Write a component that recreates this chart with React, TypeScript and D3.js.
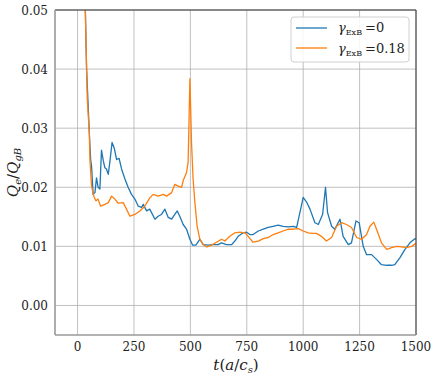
import React from 'react';
import * as d3 from 'd3';

// time (a/c_s) and Q_e/Q_gB
const tBlue = [30, 40, 52, 58, 62, 69, 77, 84, 91, 99, 106, 114, 121, 128, 136, 143, 153, 162, 173, 184, 195, 210, 224, 239, 254, 269, 284, 291, 306, 320, 343, 357, 372, 387, 402, 417, 431, 442, 453, 468, 483, 498, 510, 524, 542, 557, 579, 601, 623, 638, 660, 683, 697, 712, 734, 749, 764, 778, 801, 823, 845, 867, 889, 911, 934, 956, 971, 982, 1000, 1015, 1030, 1052, 1067, 1086, 1099, 1108, 1126, 1140, 1163, 1177, 1200, 1214, 1234, 1248, 1266, 1281, 1303, 1325, 1347, 1370, 1392, 1406, 1429, 1451, 1473, 1495, 1500];
const qBlue = [0.058, 0.04, 0.0293, 0.0247, 0.0236, 0.0188, 0.0191, 0.0216, 0.02, 0.0197, 0.0263, 0.0245, 0.0233, 0.0231, 0.0222, 0.0242, 0.0276, 0.0267, 0.0247, 0.0249, 0.0231, 0.0214, 0.02, 0.0188, 0.018, 0.0168, 0.0166, 0.0171, 0.016, 0.0163, 0.0146, 0.0151, 0.0154, 0.0163, 0.0149, 0.0146, 0.0154, 0.016, 0.0151, 0.0137, 0.0129, 0.0112, 0.0102, 0.0102, 0.0112, 0.0103, 0.0102, 0.0103, 0.0103, 0.0106, 0.0103, 0.0103, 0.0109, 0.0117, 0.0123, 0.0124, 0.012, 0.012, 0.0126, 0.0129, 0.0132, 0.0134, 0.0136, 0.0134, 0.0133, 0.0134, 0.0132, 0.0151, 0.0183, 0.0175, 0.0163, 0.014, 0.0137, 0.0154, 0.02, 0.0157, 0.0134, 0.0129, 0.0146, 0.0117, 0.0103, 0.0106, 0.0143, 0.014, 0.01, 0.0086, 0.0086, 0.0078, 0.0069, 0.0068, 0.0068, 0.0069, 0.0081, 0.0095, 0.0106, 0.0113, 0.0112];

const tOrange = [30, 40, 43, 52, 55, 62, 72, 81, 91, 102, 121, 136, 151, 165, 180, 202, 217, 232, 254, 276, 298, 320, 335, 357, 380, 394, 417, 431, 446, 461, 468, 483, 490, 498, 505, 512, 520, 530, 542, 557, 572, 594, 616, 638, 653, 675, 697, 720, 742, 756, 778, 801, 823, 845, 867, 889, 911, 934, 956, 978, 1000, 1022, 1044, 1059, 1081, 1103, 1126, 1148, 1170, 1192, 1214, 1237, 1259, 1281, 1296, 1313, 1325, 1347, 1370, 1392, 1414, 1436, 1458, 1481, 1500];
const qOrange = [0.058, 0.04, 0.0349, 0.0293, 0.0245, 0.0202, 0.0185, 0.0177, 0.018, 0.0168, 0.0171, 0.0174, 0.0185, 0.018, 0.0173, 0.0174, 0.0163, 0.0151, 0.0154, 0.016, 0.0168, 0.0182, 0.0188, 0.0185, 0.0188, 0.0185, 0.0191, 0.0205, 0.0202, 0.02, 0.0211, 0.0225, 0.0242, 0.0384, 0.0276, 0.0214, 0.0174, 0.0134, 0.0112, 0.0103, 0.0099, 0.0102, 0.0107, 0.0112, 0.0109, 0.0117, 0.0123, 0.0124, 0.0123, 0.0117, 0.0107, 0.0109, 0.0113, 0.0115, 0.012, 0.0123, 0.0126, 0.0129, 0.0129, 0.013, 0.0126, 0.0123, 0.0122, 0.0122, 0.0117, 0.0109, 0.0115, 0.0134, 0.014, 0.0137, 0.0132, 0.0115, 0.0112, 0.012, 0.0134, 0.0141, 0.0129, 0.0106, 0.0095, 0.0098, 0.01, 0.0099, 0.0098, 0.01, 0.0105];

const xTicks = [0, 250, 500, 750, 1000, 1250, 1500];
const yTicks = [0, 0.01, 0.02, 0.03, 0.04, 0.05];

const W = 436;
const H = 378;
const left = 55, right = 416, top = 10, bottom = 335;
const serif = { fontFamily: "'DejaVu Serif', serif" };

export default function App() {
  const x = d3.scaleLinear().domain([-100, 1500]).range([left, right]);
  const y = d3.scaleLinear().domain([-0.005, 0.05]).range([bottom, top]);

  const line = d3.line<number[]>()
    .x(d => x(d[0]))
    .y(d => y(d[1]));

  const blue = line(tBlue.map((t, i) => [t, qBlue[i]]));
  const orange = line(tOrange.map((t, i) => [t, qOrange[i]]));

  return (
    <svg width={W} height={H} style={{ position: 'absolute', left: 0, top: 0, background: '#fff' }}>
      <defs>
        <clipPath id="plot">
          <rect x={left} y={top} width={right - left} height={bottom - top} />
        </clipPath>
      </defs>

      {/* grid */}
      {xTicks.map(t => (
        <line key={'gx' + t} x1={x(t)} x2={x(t)} y1={top} y2={bottom} stroke="#b0b0b0" strokeWidth={0.8} />
      ))}
      {yTicks.map(t => (
        <line key={'gy' + t} x1={left} x2={right} y1={y(t)} y2={y(t)} stroke="#b0b0b0" strokeWidth={0.8} />
      ))}

      <g clipPath="url(#plot)" fill="none" strokeWidth={1.3} strokeLinejoin="round">
        <path d={blue || ''} stroke="#1f77b4" />
        <path d={orange || ''} stroke="#ff7f0e" />
      </g>

      {/* spines */}
      <line x1={left} x2={right} y1={top} y2={top} stroke="#333" strokeWidth={1} />
      <line x1={right} x2={right} y1={top} y2={bottom} stroke="#333" strokeWidth={1} />
      <line x1={left} x2={left} y1={top} y2={bottom} stroke="#999" strokeWidth={1.6} />
      <line x1={left} x2={right} y1={bottom} y2={bottom} stroke="#999" strokeWidth={1.6} />

      {/* tick labels */}
      <g style={serif} fontSize={12} fill="#222">
        {xTicks.map(t => (
          <text key={'tx' + t} x={x(t)} y={351} textAnchor="middle">{t}</text>
        ))}
        {yTicks.map(t => (
          <text key={'ty' + t} x={48} y={y(t) + 4.5} textAnchor="end">{d3.format('.2f')(t)}</text>
        ))}
      </g>

      {/* axis labels */}
      <text x={236} y={370} textAnchor="middle" style={serif} fontSize={15} fill="#222">
        <tspan fontStyle="italic">t</tspan>(<tspan fontStyle="italic">a</tspan>/<tspan fontStyle="italic">c</tspan><tspan fontStyle="italic" fontSize={10} dy={3}>s</tspan><tspan dy={-3}>)</tspan>
      </text>
      <text transform={`translate(18, ${(top + bottom) / 2}) rotate(-90)`} textAnchor="middle" style={serif} fontSize={15} fill="#222">
        <tspan fontStyle="italic">Q</tspan><tspan fontStyle="italic" fontSize={10} dy={3}>e</tspan><tspan dy={-3}>/</tspan><tspan fontStyle="italic">Q</tspan><tspan fontStyle="italic" fontSize={10} dy={3}>gB</tspan>
      </text>

      {/* legend */}
      <rect x={291} y={17} width={118} height={45} rx={3} fill="#fff" fillOpacity={0.85} stroke="#d0d0d0" strokeWidth={1} />
      <line x1={296} x2={327} y1={28} y2={28} stroke="#1f77b4" strokeWidth={1.3} />
      <line x1={296} x2={327} y1={48} y2={48} stroke="#ff7f0e" strokeWidth={1.3} />
      <g style={serif} fontSize={13} fill="#222">
        <text x={338} y={32}>
          <tspan fontStyle="italic">γ</tspan><tspan fontSize={8} dy={3}>ExB</tspan><tspan dy={-3} dx={3}>=0</tspan>
        </text>
        <text x={338} y={53}>
          <tspan fontStyle="italic">γ</tspan><tspan fontSize={8} dy={3}>ExB</tspan><tspan dy={-3} dx={3}>=0.18</tspan>
        </text>
      </g>
    </svg>
  );
}
